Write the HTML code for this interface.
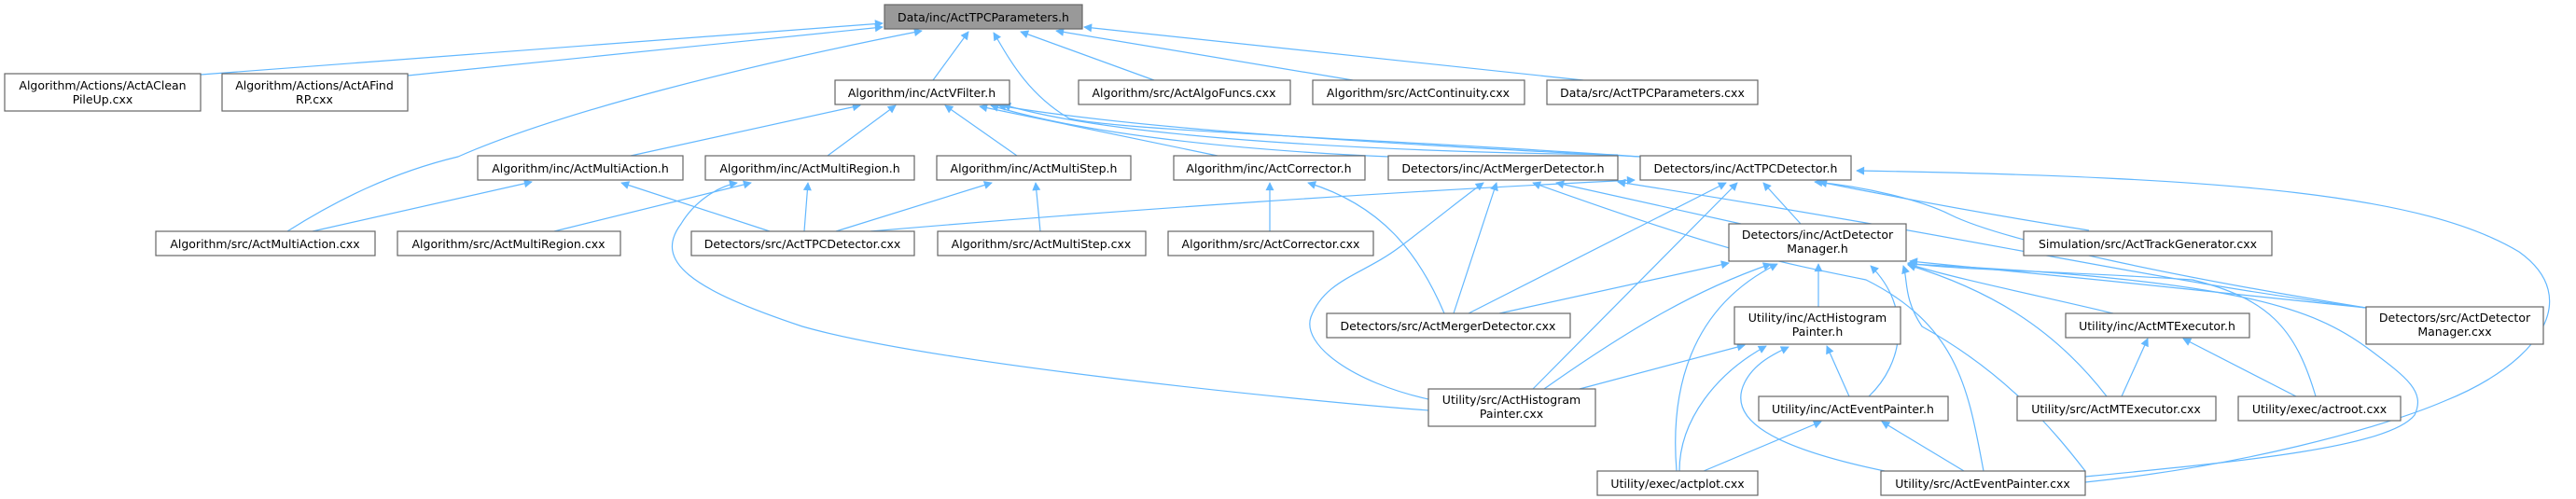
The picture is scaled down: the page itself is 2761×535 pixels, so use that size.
<!DOCTYPE html>
<html><head><meta charset="utf-8"><style>
html,body{margin:0;padding:0;background:#fff;}
svg{display:block;}
text{font-family:"DejaVu Sans","Liberation Sans",sans-serif;font-size:12.5px;fill:#000;text-anchor:middle;}
.n{fill:#fff;stroke:#666;stroke-width:1.2;}
.r{fill:#999;stroke:#666;stroke-width:1.2;}
.e{fill:none;stroke:#63b8ff;stroke-width:1.2;marker-end:url(#a);}
</style></head><body>
<svg width="2761" height="535" viewBox="0 0 2761 535" xmlns="http://www.w3.org/2000/svg">
<defs><marker id="a" viewBox="0 0 10 10" refX="9" refY="5" markerWidth="10" markerHeight="9" markerUnits="userSpaceOnUse" orient="auto"><path d="M0,0 L10,5 L0,10 z" fill="#63b8ff"/></marker></defs>
<g>
<path class="e" d="M215,80 L946,25"/>
<path class="e" d="M437,81 L946,29"/>
<path class="e" d="M308,248 C360,215 420,185 491,168 C600,120 800,70 988,33"/>
<path class="e" d="M1000,86 L1038,34"/>
<path class="e" d="M1758,168 C1500,150 1200,140 1146,127 C1100,100 1080,60 1065,35"/>
<path class="e" d="M1237,86 L1094,34"/>
<path class="e" d="M1450,86 L1132,33"/>
<path class="e" d="M1697,86 L1162,29"/>
<path class="e" d="M676,167 L922,113"/>
<path class="e" d="M887,167 L960,113"/>
<path class="e" d="M1090,167 L1013,113"/>
<path class="e" d="M1305,167 L1050,114"/>
<path class="e" d="M1489,168 C1300,160 1150,140 1062,113"/>
<path class="e" d="M1758,168 C1400,150 1200,135 1070,113"/>
<path class="e" d="M1734,166 C1500,163 1200,150 1075,112"/>
<path class="e" d="M335,248 L570,195"/>
<path class="e" d="M825,248 L666,196"/>
<path class="e" d="M594,248 L805,196"/>
<path class="e" d="M862,248 L866,196"/>
<path class="e" d="M1531,440 C1400,430 1000,390 860,350 C740,310 700,280 730,240 C745,215 770,200 790,196"/>
<path class="e" d="M896,248 L1063,196"/>
<path class="e" d="M1115,248 L1110,196"/>
<path class="e" d="M1361,248 L1361,196"/>
<path class="e" d="M1548,336 C1520,270 1480,220 1402,196"/>
<path class="e" d="M933,248 C1200,225 1500,205 1752,193"/>
<path class="e" d="M1558,336 L1604,196"/>
<path class="e" d="M1531,428 C1450,410 1395,370 1405,340 C1420,300 1460,295 1500,265 C1540,235 1570,210 1590,196"/>
<path class="e" d="M2126,505 C2110,420 2100,350 2000,300 C1900,280 1850,270 1643,196"/>
<path class="e" d="M1866,240 L1668,196"/>
<path class="e" d="M2536,330 C2300,300 2150,260 1734,195"/>
<path class="e" d="M1574,336 L1850,196"/>
<path class="e" d="M1643,417 L1862,196"/>
<path class="e" d="M1930,240 L1890,196"/>
<path class="e" d="M2239,247 C2100,225 2000,205 1950,195"/>
<path class="e" d="M2536,330 C2350,300 2150,260 2090,230 C2060,215 2000,200 1945,195"/>
<path class="e" d="M2235,517 C2400,500 2550,460 2620,430 C2720,390 2770,320 2700,270 C2600,210 2400,190 1990,183"/>
<path class="e" d="M1607,336 L1853,282"/>
<path class="e" d="M1655,417 C1750,350 1820,310 1898,283"/>
<path class="e" d="M1797,505 C1790,420 1810,330 1905,283"/>
<path class="e" d="M1949,329 L1949,283"/>
<path class="e" d="M2003,425 C2040,390 2050,330 2005,285"/>
<path class="e" d="M2235,511 C2400,495 2560,480 2588,445 C2600,420 2580,405 2540,375 C2480,330 2400,300 2045,283"/>
<path class="e" d="M2265,336 C2200,320 2100,300 2045,283"/>
<path class="e" d="M2258,425 C2200,350 2130,310 2045,284"/>
<path class="e" d="M2482,425 C2460,350 2430,320 2350,300 C2200,290 2100,290 2045,282"/>
<path class="e" d="M2536,330 C2400,315 2200,295 2047,280"/>
<path class="e" d="M2235,505 C2200,460 2150,400 2060,350 C2040,320 2045,300 2040,285"/>
<path class="e" d="M1693,417 L1870,370"/>
<path class="e" d="M1800,505 C1800,450 1840,400 1893,371"/>
<path class="e" d="M1982,425 L1958,371"/>
<path class="e" d="M2020,505 C1900,480 1850,450 1870,410 C1880,390 1900,380 1917,372"/>
<path class="e" d="M1826,505 L1952,452"/>
<path class="e" d="M2105,505 L2017,452"/>
<path class="e" d="M2274,425 L2302,363"/>
<path class="e" d="M2461,425 L2340,363"/>
</g>
<g>
<rect class="r" x="948" y="5" width="212" height="26"/><text x="1054" y="23">Data/inc/ActTPCParameters.h</text>
<rect class="n" x="5" y="79" width="210" height="40"/><text x="110" y="96">Algorithm/Actions/ActAClean</text><text x="110" y="111">PileUp.cxx</text>
<rect class="n" x="238" y="79" width="199" height="40"/><text x="337" y="96">Algorithm/Actions/ActAFind</text><text x="337" y="111">RP.cxx</text>
<rect class="n" x="895" y="86" width="187" height="26"/><text x="988" y="104">Algorithm/inc/ActVFilter.h</text>
<rect class="n" x="1156" y="86" width="227" height="26"/><text x="1269" y="104">Algorithm/src/ActAlgoFuncs.cxx</text>
<rect class="n" x="1407" y="86" width="227" height="26"/><text x="1520" y="104">Algorithm/src/ActContinuity.cxx</text>
<rect class="n" x="1658" y="86" width="226" height="26"/><text x="1771" y="104">Data/src/ActTPCParameters.cxx</text>
<rect class="n" x="512" y="167" width="220" height="26"/><text x="622" y="185">Algorithm/inc/ActMultiAction.h</text>
<rect class="n" x="756" y="167" width="224" height="26"/><text x="868" y="185">Algorithm/inc/ActMultiRegion.h</text>
<rect class="n" x="1004" y="167" width="208" height="26"/><text x="1108" y="185">Algorithm/inc/ActMultiStep.h</text>
<rect class="n" x="1258" y="167" width="205" height="26"/><text x="1360" y="185">Algorithm/inc/ActCorrector.h</text>
<rect class="n" x="1488" y="167" width="246" height="26"/><text x="1611" y="185">Detectors/inc/ActMergerDetector.h</text>
<rect class="n" x="1758" y="167" width="226" height="26"/><text x="1871" y="185">Detectors/inc/ActTPCDetector.h</text>
<rect class="n" x="167" y="248" width="235" height="26"/><text x="284" y="266">Algorithm/src/ActMultiAction.cxx</text>
<rect class="n" x="426" y="248" width="239" height="26"/><text x="545" y="266">Algorithm/src/ActMultiRegion.cxx</text>
<rect class="n" x="741" y="248" width="239" height="26"/><text x="860" y="266">Detectors/src/ActTPCDetector.cxx</text>
<rect class="n" x="1005" y="248" width="223" height="26"/><text x="1116" y="266">Algorithm/src/ActMultiStep.cxx</text>
<rect class="n" x="1252" y="248" width="220" height="26"/><text x="1362" y="266">Algorithm/src/ActCorrector.cxx</text>
<rect class="n" x="1853" y="240" width="190" height="40"/><text x="1948" y="256">Detectors/inc/ActDetector</text><text x="1948" y="271">Manager.h</text>
<rect class="n" x="2169" y="248" width="266" height="26"/><text x="2302" y="266">Simulation/src/ActTrackGenerator.cxx</text>
<rect class="n" x="1422" y="336" width="261" height="26"/><text x="1552" y="354">Detectors/src/ActMergerDetector.cxx</text>
<rect class="n" x="1859" y="329" width="178" height="40"/><text x="1948" y="345">Utility/inc/ActHistogram</text><text x="1948" y="360">Painter.h</text>
<rect class="n" x="2214" y="336" width="197" height="26"/><text x="2312" y="354">Utility/inc/ActMTExecutor.h</text>
<rect class="n" x="2536" y="329" width="190" height="40"/><text x="2631" y="345">Detectors/src/ActDetector</text><text x="2631" y="360">Manager.cxx</text>
<rect class="n" x="1531" y="417" width="179" height="40"/><text x="1620" y="433">Utility/src/ActHistogram</text><text x="1620" y="448">Painter.cxx</text>
<rect class="n" x="1885" y="425" width="203" height="26"/><text x="1986" y="443">Utility/inc/ActEventPainter.h</text>
<rect class="n" x="2162" y="425" width="213" height="26"/><text x="2268" y="443">Utility/src/ActMTExecutor.cxx</text>
<rect class="n" x="2399" y="425" width="174" height="26"/><text x="2486" y="443">Utility/exec/actroot.cxx</text>
<rect class="n" x="1712" y="505" width="172" height="26"/><text x="1798" y="523">Utility/exec/actplot.cxx</text>
<rect class="n" x="2016" y="505" width="219" height="26"/><text x="2125" y="523">Utility/src/ActEventPainter.cxx</text>
</g>
</svg>
</body></html>
